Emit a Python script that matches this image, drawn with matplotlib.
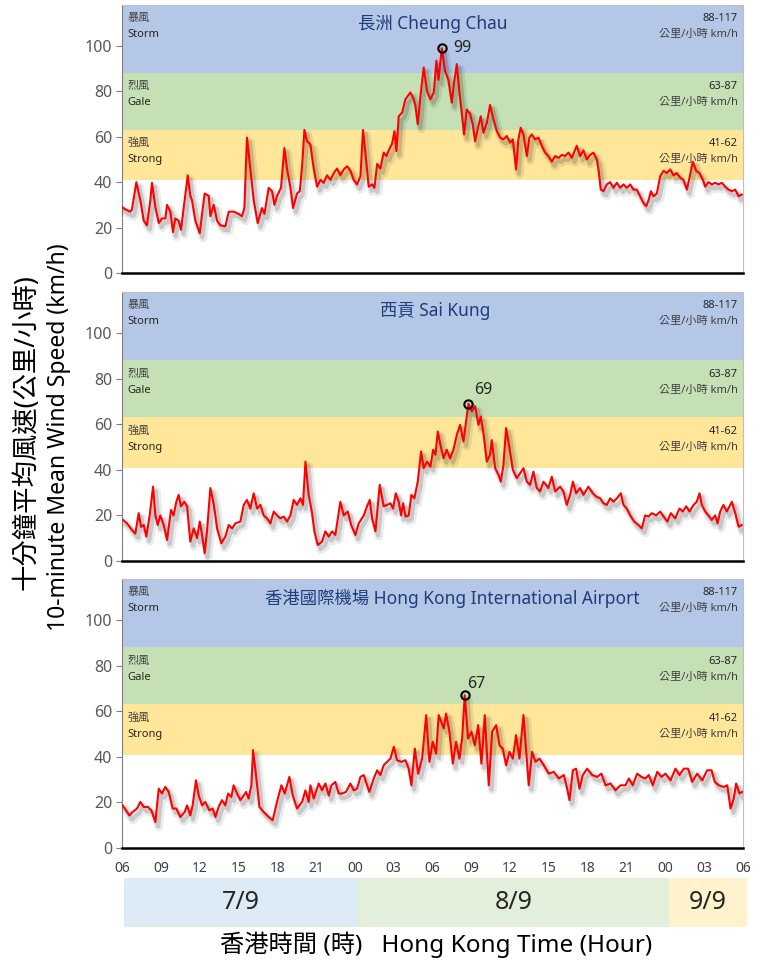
import matplotlib
matplotlib.use("Agg")
import matplotlib.pyplot as plt
import matplotlib.patheffects as pe
import numpy as np

# hours since 06:00 on 7/9, 10-minute mean wind speed (km/h)
cc_hours = [0.0, 0.26, 0.64, 0.77, 1.11, 1.42, 1.68, 1.93, 2.19, 2.32, 2.58, 2.84, 3.09, 3.35, 3.48, 3.74, 3.94, 4.12, 4.38, 4.56,
            4.82, 5.08, 5.28, 5.41, 5.67, 6.01, 6.19, 6.39, 6.70, 6.83, 7.09, 7.35, 7.60, 7.99, 8.25, 8.63, 9.02, 9.28, 9.46, 9.66,
            9.92, 10.18, 10.49, 10.82, 11.01, 11.34, 11.60, 11.78, 11.98, 12.29, 12.55, 12.76, 13.02, 13.22, 13.53, 13.74, 13.92, 14.10, 14.30, 14.56,
            14.82, 15.08, 15.34, 15.59, 15.85, 16.11, 16.37, 16.62, 16.88, 17.14, 17.40, 17.65, 17.91, 18.17, 18.43, 18.63, 18.81, 19.07, 19.33, 19.51,
            19.72, 19.97, 20.23, 20.44, 20.62, 20.88, 21.06, 21.21, 21.39, 21.65, 21.91, 22.29, 22.55, 22.68, 22.86, 23.07, 23.32, 23.58, 23.84, 24.10,
            24.30, 24.46, 24.72, 24.97, 25.23, 25.49, 25.67, 25.88, 26.08, 26.26, 26.44, 26.65, 26.91, 27.11, 27.29, 27.55, 27.73, 27.94, 28.20, 28.45,
            28.71, 28.97, 29.23, 29.48, 29.74, 30.00, 30.21, 30.46, 30.64, 30.82, 31.03, 31.29, 31.49, 31.67, 31.93, 32.19, 32.45, 32.71, 32.96, 33.22,
            33.48, 33.74, 34.00, 34.25, 34.51, 34.77, 35.15, 35.41, 35.67, 35.93, 36.19, 36.44, 36.70, 36.83, 37.01, 37.22, 37.47, 37.73, 37.99, 38.25,
            38.51, 38.76, 39.02, 39.28, 39.54, 39.79, 40.05, 40.31, 40.52, 40.70, 40.88, 41.08, 41.34, 41.60, 41.86, 42.11, 42.37, 42.63, 42.89, 43.14,
            43.40, 43.66, 43.87, 44.12, 44.38, 44.64, 44.90, 45.08, 45.33, 45.59, 45.85, 46.11, 46.37, 46.62, 46.88, 47.14, 47.40, 47.66, 47.91]
cc_speed = [29, 28, 27, 28, 40, 32, 23, 21, 32, 39.7, 29, 22, 24, 24, 30, 27, 18, 24, 23, 19,
            31, 43, 34, 32, 23, 17.5, 26, 35, 34, 25, 30, 23, 21, 20.5, 27, 27, 26, 25, 28.6, 59.6,
            45.6, 32, 22, 28.6, 26, 37.5, 36, 30, 33.8, 37.5, 55, 45.6, 37.5, 28.6, 35, 36, 47, 63, 58, 56.6,
            46, 38, 41, 39.7, 43, 41, 44, 46, 43, 45.6, 47, 45, 41, 39, 42.6, 63, 53, 38, 39, 37.5,
            48, 46, 53, 51.5, 54, 57, 62.5, 53.7, 69, 70.6, 76.5, 79.5, 76.5, 73.6, 65.5, 78, 90.5, 80, 76.5, 79.5,
            93.5, 85, 99, 89, 85, 75, 84, 92, 79.5, 70.6, 61, 72, 70, 65.5, 58, 64.7, 69, 61.8, 66, 74,
            67.7, 62.5, 59.6, 58.8, 60.3, 57.4, 58.8, 45.6, 58.8, 64, 61, 51.5, 59.6, 61, 58.8, 59.6, 56, 53, 51.5, 49,
            51.5, 50.7, 52, 51.5, 53, 50.7, 56, 51.5, 54, 50, 52, 53, 50, 45.6, 36.7, 36, 39, 40, 37.5, 39.7,
            37.5, 39, 37.5, 39, 36.7, 36.7, 33.8, 30.8, 29.4, 32, 36, 33.8, 35, 42.6, 45, 44, 45.6, 43, 44, 42,
            41, 36.7, 42, 49, 45, 44, 41, 38, 40, 39, 39.7, 39, 39.7, 38, 36.7, 36, 36.7, 33.8, 34.5]

sk_hours = [0.08, 0.39, 0.77, 1.03, 1.29, 1.47, 1.68, 1.88, 2.14, 2.40, 2.58, 2.76, 2.96, 3.22, 3.48, 3.79, 3.99, 4.20, 4.38, 4.56,
            4.82, 5.03, 5.28, 5.54, 5.80, 6.01, 6.19, 6.39, 6.57, 6.83, 7.09, 7.35, 7.68, 7.99, 8.25, 8.51, 8.76, 9.15, 9.41, 9.66,
            9.92, 10.18, 10.44, 10.70, 10.95, 11.21, 11.47, 11.73, 11.98, 12.24, 12.50, 12.76, 13.02, 13.27, 13.53, 13.79, 13.99, 14.18, 14.43, 14.69,
            14.87, 15.13, 15.46, 15.72, 15.98, 16.24, 16.49, 16.88, 17.14, 17.45, 17.71, 18.04, 18.30, 18.69, 18.94, 19.15, 19.33, 19.59, 19.92, 20.23,
            20.49, 20.75, 20.95, 21.16, 21.39, 21.57, 21.73, 21.91, 22.16, 22.37, 22.60, 22.86, 23.12, 23.32, 23.58, 23.84, 24.05, 24.23, 24.41, 24.61,
            24.85, 25.10, 25.36, 25.62, 25.88, 26.13, 26.39, 26.65, 26.78, 27.04, 27.29, 27.55, 27.73, 27.94, 28.20, 28.45, 28.58, 28.84, 29.10, 29.28,
            29.48, 29.69, 29.95, 30.21, 30.52, 30.77, 31.03, 31.29, 31.55, 31.80, 32.06, 32.32, 32.58, 32.96, 33.22, 33.48, 33.87, 34.12, 34.38, 34.64,
            34.85, 35.10, 35.41, 35.67, 36.05, 36.39, 36.65, 36.96, 37.22, 37.47, 37.73, 37.99, 38.25, 38.56, 38.76, 39.02, 39.28, 39.59, 39.92, 40.18,
            40.44, 40.70, 40.95, 41.29, 41.60, 41.86, 42.16, 42.42, 42.76, 43.09, 43.35, 43.61, 43.87, 44.18, 44.43, 44.64, 44.82, 45.08, 45.33, 45.59,
            45.85, 46.03, 46.24, 46.49, 46.75, 47.14, 47.40, 47.66, 47.91]
sk_speed = [18, 16.5, 13.6, 12, 21, 15, 15.8, 10.7, 20, 32.6, 20, 15.8, 20, 15.8, 9.2, 22.4, 20, 26, 29, 24,
            26, 24, 8.5, 14.3, 10, 17.3, 11.4, 3.4, 13, 32, 25, 14.3, 7.8, 10.7, 15.8, 14.3, 16.5, 17.3, 24.6, 26.8,
            23, 29.7, 23, 24.6, 20, 18.7, 16.5, 21.7, 20, 18.7, 19.5, 17.3, 20, 26.8, 24.6, 27.5, 24.6, 43.6, 29, 21,
            13, 7, 8.5, 13, 10.7, 13, 11.4, 26, 20, 21.7, 15.8, 11.4, 16.5, 20, 24, 26.8, 18.7, 13, 33.4, 24,
            24.6, 25.3, 23, 29.7, 26, 20, 25.3, 19.5, 20, 29, 27.5, 34.8, 48, 40.7, 43.6, 41.4, 48.8, 46.6, 56.8, 51,
            45, 48.8, 45, 48.8, 55.3, 59.7, 52.4, 63.4, 69, 65.6, 68, 59.7, 63.4, 56, 43.6, 46.6, 53, 40.7, 37.8, 34.8,
            42, 58.3, 49.5, 40, 36.3, 38.5, 40.7, 34.8, 33.4, 39.2, 32, 30.5, 34.8, 32, 37, 30.5, 32.6, 30.5, 24.6, 29,
            34.8, 29.7, 32, 29, 32.6, 29.7, 28.3, 27.5, 25.3, 24.6, 27.5, 26, 27.5, 29.7, 24.6, 23, 20, 17.3, 15.8, 14.3,
            20, 19.5, 21, 20, 21.7, 19.5, 17.3, 21, 18.7, 23, 21.7, 24, 21.7, 24.6, 26, 29.7, 24.6, 21.7, 20, 18,
            20, 16.5, 21.7, 24.6, 21.7, 26, 21, 15, 15.8]

ap_hours = [0.05, 0.31, 0.57, 0.82, 1.16, 1.42, 1.68, 2.01, 2.27, 2.58, 2.84, 3.09, 3.35, 3.61, 3.92, 4.20, 4.51, 4.85, 5.03, 5.28,
            5.46, 5.72, 5.93, 6.19, 6.44, 6.75, 7.01, 7.22, 7.47, 7.73, 7.99, 8.20, 8.45, 8.63, 8.89, 9.15, 9.41, 9.59, 9.79, 10.00,
            10.13, 10.36, 10.62, 10.95, 11.34, 11.65, 11.98, 12.32, 12.58, 12.94, 13.20, 13.53, 13.92, 14.18, 14.43, 14.56, 14.82, 15.21, 15.46, 15.72,
            15.98, 16.19, 16.49, 16.75, 17.01, 17.32, 17.65, 17.91, 18.17, 18.43, 18.69, 18.94, 19.12, 19.46, 19.72, 19.97, 20.23, 20.49, 20.75, 21.01,
            21.26, 21.60, 21.91, 22.16, 22.37, 22.63, 22.89, 23.20, 23.51, 23.76, 24.02, 24.28, 24.48, 24.87, 25.05, 25.31, 25.57, 25.82, 26.08, 26.29,
            26.49, 26.75, 27.01, 27.27, 27.53, 27.78, 28.04, 28.35, 28.61, 28.92, 29.18, 29.43, 29.69, 29.95, 30.21, 30.46, 30.72, 31.03, 31.24, 31.44,
            31.70, 31.96, 32.27, 32.60, 32.99, 33.38, 33.76, 34.15, 34.41, 34.59, 34.85, 35.10, 35.36, 35.62, 35.95, 36.34, 36.73, 37.06, 37.37, 37.76,
            38.14, 38.53, 38.92, 39.18, 39.48, 39.82, 40.15, 40.46, 40.72, 41.03, 41.37, 41.70, 42.01, 42.40, 42.78, 43.09, 43.43, 43.76, 44.07, 44.46,
            44.85, 45.23, 45.57, 45.82, 46.13, 46.52, 46.78, 47.04, 47.29, 47.47, 47.73, 47.94]
ap_speed = [18.7, 16.5, 14.3, 15.8, 17.3, 20.2, 18, 18, 16.5, 11.4, 26, 23.9, 26.8, 24.6, 17.3, 17.3, 13.6, 15.8, 18.7, 14.3,
            18.7, 29.7, 23, 18.7, 20.2, 16.5, 17.3, 13.6, 18, 21, 18.7, 23.9, 22.4, 27.5, 23.9, 21, 23, 24.6, 21.7, 27.5,
            42.9, 32, 18, 15.8, 13.6, 12.2, 20.2, 27.5, 23.9, 31.2, 23, 17.3, 20.2, 25.3, 20.2, 27.5, 21.7, 28.3, 25.3, 28.3,
            23, 27.5, 29, 23.9, 23.9, 24.6, 28.3, 25.3, 26, 31.2, 32, 27.5, 24.6, 30.5, 34.1, 32, 36.3, 37.8, 39.2, 44.4,
            38.5, 37.8, 38.5, 34.8, 27.5, 43.6, 32.6, 39.2, 58.3, 37.8, 46.6, 41.4, 58.3, 52.4, 59, 51, 37, 46.6, 39.2, 48,
            67, 48, 51, 45, 53.9, 37, 58.3, 27.5, 51, 53.9, 45, 43.6, 36.3, 42.2, 39.2, 49.5, 39.2, 58.3, 42.2, 27.5,
            42.2, 37.8, 39.2, 36.3, 32.6, 33.4, 30.5, 32, 26, 21, 34.1, 34.8, 26, 32, 34.8, 32, 31.2, 32.6, 27.5, 28.3,
            25.3, 27.5, 27.5, 30.5, 27.5, 32.6, 31.2, 30.5, 32, 27.5, 33.4, 31.2, 32.6, 29.7, 34.8, 32, 34.8, 34.8, 29, 32.6,
            29.7, 34.1, 34.1, 29, 27.5, 26.8, 27.5, 17.3, 21.7, 28.3, 23.9, 24.6]

stations = ["長洲 Cheung Chau", "西貢 Sai Kung", "香港國際機場 Hong Kong International Airport"]
title_hours = [24.0, 24.2, 25.5]
peak_text_offsets = [(8, 0), (4, 10), (2, 8)]

# wind force bands
band_names_zh = ["強風", "烈風", "暴風"]
band_names_en = ["Strong", "Gale", "Storm"]
band_ranges = ["41-62", "63-87", "88-117"]
band_lows = [41, 63, 88]
band_highs = [63, 88, 118]
band_colors = ["#FFE699", "#C5E0B4", "#B4C7E7"]

tick_hours = list(range(0, 49, 3))
tick_labels = ["06", "09", "12", "15", "18", "21", "00", "03", "06", "09", "12", "15", "18", "21", "00", "03", "06"]

day_labels = ["7/9", "8/9", "9/9"]
day_starts = [0, 18, 42]
day_ends = [18, 42, 48]
day_colors = ["#DDEBF7", "#E2EFDA", "#FFF2CC"]

FONT = ["Noto Sans", "Noto Sans CJK TC", "DejaVu Sans"]
plt.rcParams["font.family"] = FONT

W, H = 761, 963
fig = plt.figure(figsize=(W / 100, H / 100), dpi=100)

# panel pixel boxes (top, bottom)
panel_px = [(5, 273), (292, 561), (579, 848)]
left_px, right_px = 122, 743

series = [(cc_hours, cc_speed), (sk_hours, sk_speed), (ap_hours, ap_speed)]
shadow = [pe.SimpleLineShadow(offset=(2.5, -3.5), shadow_color="#000000", alpha=0.08, linewidth=6),
          pe.SimpleLineShadow(offset=(2, -3), shadow_color="#000000", alpha=0.15, linewidth=3),
          pe.Normal()]

for i, (top, bot) in enumerate(panel_px):
    ax = fig.add_axes([left_px / W, (H - bot) / H, (right_px - left_px) / W, (bot - top) / H])
    for lo, hi, c in zip(band_lows, band_highs, band_colors):
        ax.axhspan(lo, hi, color=c, lw=0, zorder=0)

    hrs, spd = series[i]
    ax.plot(hrs, spd, color="#FF0000", lw=1.5, zorder=3, path_effects=shadow)

    k = int(np.argmax(spd))
    ax.plot(hrs[k], spd[k], "o", mfc="none", mec="#000000", mew=1.5, ms=6, zorder=4)
    ax.annotate(f"{round(spd[k])}", (hrs[k], spd[k]), xytext=peak_text_offsets[i], textcoords="offset points",
                fontsize=11.5, color="#262626", va="center", ha="left", zorder=5)

    for lo, hi, zh, en, rng in zip(band_lows, band_highs, band_names_zh, band_names_en, band_ranges):
        ax.text(0.4, hi - 6, zh, fontsize=8, color="#404040", va="center", ha="left")
        ax.text(0.4, hi - 13, en, fontsize=8, color="#262626", va="center", ha="left")
        ax.text(47.6, hi - 6, rng, fontsize=8, color="#262626", va="center", ha="right")
        ax.text(47.6, hi - 13, "公里/小時 km/h", fontsize=8, color="#404040", va="center", ha="right")

    ax.text(title_hours[i], 109.5, stations[i], fontsize=12.5, color="#1F3D7A", ha="center", va="center")

    ax.set_xlim(0, 48)
    ax.set_ylim(0, 118)
    ax.set_yticks([0, 20, 40, 60, 80, 100])
    ax.tick_params(axis="y", labelsize=11.5, labelcolor="#595959", color="#808080", length=4, width=0.8, pad=3)
    ax.set_xticks(tick_hours)
    if i == 2:
        ax.set_xticklabels(tick_labels, fontsize=10, color="#404040")
        ax.tick_params(axis="x", length=0, pad=9)
    else:
        ax.set_xticklabels([])
        ax.tick_params(axis="x", length=0)
    for s in ["top", "right"]:
        ax.spines[s].set_color("#BFBFBF")
        ax.spines[s].set_linewidth(0.8)
    ax.spines["left"].set_color("#7F7F7F")
    ax.spines["left"].set_linewidth(0.8)
    ax.spines["bottom"].set_color("#000000")
    ax.spines["bottom"].set_linewidth(1.8)
    ax.spines["bottom"].set_zorder(6)

# date bar below the time axis
bar = fig.add_axes([124 / W, (H - 927) / H, 623 / W, 49 / H])
for lab, s0, s1, c in zip(day_labels, day_starts, day_ends, day_colors):
    bar.axvspan(s0, s1, color=c, lw=0)
    bar.text((s0 + s1) / 2, 0.5, lab, fontsize=18, color="#262626", ha="center", va="center",
             transform=bar.get_xaxis_transform())
bar.set_xlim(0, 48)
bar.set_ylim(0, 1)
bar.axis("off")

fig.text(27 / W, (H - 432) / H, "十分鐘平均風速(公里/小時)", rotation=90, fontsize=19,
         ha="center", va="center", color="#000000")
fig.text(59 / W, (H - 437) / H, "10-minute Mean Wind Speed (km/h)", rotation=90, fontsize=16.5,
         ha="center", va="center", color="#000000")
fig.text(436 / W, (H - 945) / H, "香港時間 (時)   Hong Kong Time (Hour)", fontsize=17.5,
         ha="center", va="center", color="#000000")

fig.savefig("out.png", dpi=100)
